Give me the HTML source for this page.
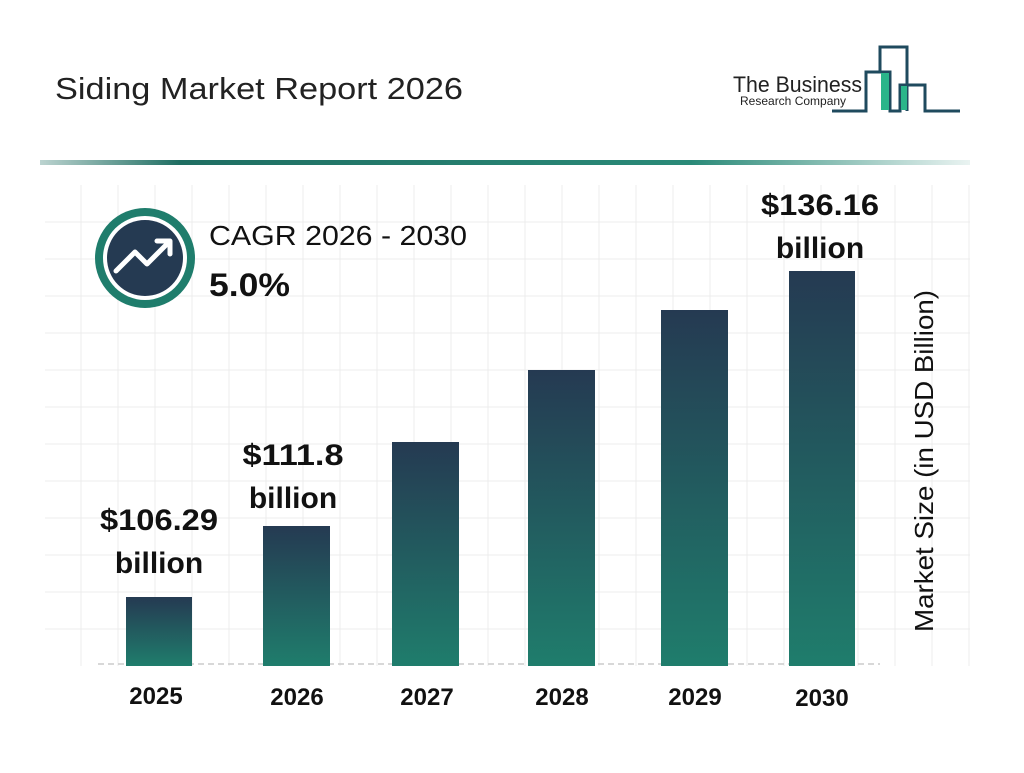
<!DOCTYPE html>
<html><head><meta charset="utf-8"><style>
body{margin:0;width:1024px;height:768px;background:#fff;overflow:hidden;font-family:"Liberation Sans",Arial,sans-serif}
</style></head><body>
<svg width="1024" height="768" xmlns="http://www.w3.org/2000/svg" font-family="Liberation Sans, Arial, sans-serif">
<defs>
<linearGradient id="g" x1="0" y1="0" x2="0" y2="1"><stop offset="0" stop-color="#253a52"/><stop offset="1" stop-color="#1f7d6c"/></linearGradient>
<linearGradient id="ln" x1="0" y1="0" x2="1" y2="0"><stop offset="0" stop-color="#1f6e62" stop-opacity="0.3"/><stop offset="0.15" stop-color="#1f6e62"/><stop offset="0.7" stop-color="#2a8a78"/><stop offset="1" stop-color="#2a8a78" stop-opacity="0.1"/></linearGradient>
</defs>
<text x="55" y="99" font-size="31" fill="#222" textLength="408" lengthAdjust="spacingAndGlyphs">Siding Market Report 2026</text>
<!-- logo -->
<text x="733" y="92" font-size="22" fill="#222" textLength="129" lengthAdjust="spacingAndGlyphs">The Business</text>
<text x="740" y="105" font-size="12" fill="#222">Research Company</text>
<g fill="none" stroke="#1f4a5e" stroke-width="3">
<path d="M832 111 H866 V72 H890 V111 H900 V85 H925 V111 H960"/>
<path d="M880 72 V47 H907 V111"/>
</g>
<rect x="881" y="73" width="8" height="37" fill="#2bb58a"/>
<rect x="901" y="86" width="6" height="24" fill="#2bb58a"/>
<rect x="40" y="160" width="930" height="5" fill="url(#ln)"/>
<!-- grid -->
<g stroke="#ececec" stroke-width="1">
<path d="M81 185V666M118 185V666M155 185V666M192 185V666M229 185V666M266 185V666M303 185V666M340 185V666M377 185V666M414 185V666M451 185V666M488 185V666M525 185V666M562 185V666M599 185V666M636 185V666M673 185V666M710 185V666M747 185V666M784 185V666M821 185V666M858 185V666M895 185V666M932 185V666M969 185V666"/>
<path d="M45 222H970M45 259H970M45 296H970M45 333H970M45 370H970M45 407H970M45 444H970M45 481H970M45 518H970M45 555H970M45 592H970M45 629H970"/>
</g>
<line x1="98" y1="664" x2="880" y2="664" stroke="#ccc" stroke-width="1.5" stroke-dasharray="6,4"/>
<rect x="126" y="597" width="66" height="69" fill="url(#g)"/>
<rect x="263" y="526" width="67" height="140" fill="url(#g)"/>
<rect x="392" y="442" width="67" height="224" fill="url(#g)"/>
<rect x="528" y="370" width="67" height="296" fill="url(#g)"/>
<rect x="661" y="310" width="67" height="356" fill="url(#g)"/>
<rect x="789" y="271" width="66" height="395" fill="url(#g)"/>
<g font-weight="bold" font-size="30" fill="#111" text-anchor="middle">
<text x="159" y="530" textLength="118" lengthAdjust="spacingAndGlyphs">$106.29</text><text x="159" y="573">billion</text>
<text x="293" y="465" textLength="101" lengthAdjust="spacingAndGlyphs">$111.8</text><text x="293" y="508">billion</text>
<text x="820" y="215" textLength="118" lengthAdjust="spacingAndGlyphs">$136.16</text><text x="820" y="258">billion</text>
</g>
<g font-weight="bold" font-size="24" fill="#111" text-anchor="middle">
<text x="156" y="704">2025</text><text x="297" y="705">2026</text><text x="427" y="705">2027</text><text x="562" y="705">2028</text><text x="695" y="705">2029</text><text x="822" y="706">2030</text>
</g>
<text transform="translate(933,461) rotate(-90)" font-size="26" fill="#111" text-anchor="middle" textLength="342" lengthAdjust="spacingAndGlyphs">Market Size (in USD Billion)</text>
<!-- CAGR -->
<circle cx="145" cy="258" r="50" fill="#1f7d6c"/>
<circle cx="145" cy="258" r="42" fill="#fff"/>
<circle cx="145" cy="258" r="38" fill="#253a52"/>
<path d="M116 271 L135 252 L147 264 L168 243" fill="none" stroke="#fff" stroke-width="5" stroke-linecap="round" stroke-linejoin="round"/>
<path d="M157 241 H170 V254" fill="none" stroke="#fff" stroke-width="5" stroke-linecap="round" stroke-linejoin="round"/>
<text x="209" y="245" font-size="28" fill="#111" textLength="258" lengthAdjust="spacingAndGlyphs">CAGR 2026 - 2030</text>
<text x="209" y="296" font-size="32" font-weight="bold" fill="#111" textLength="81" lengthAdjust="spacingAndGlyphs">5.0%</text>
</svg>
</body></html>
